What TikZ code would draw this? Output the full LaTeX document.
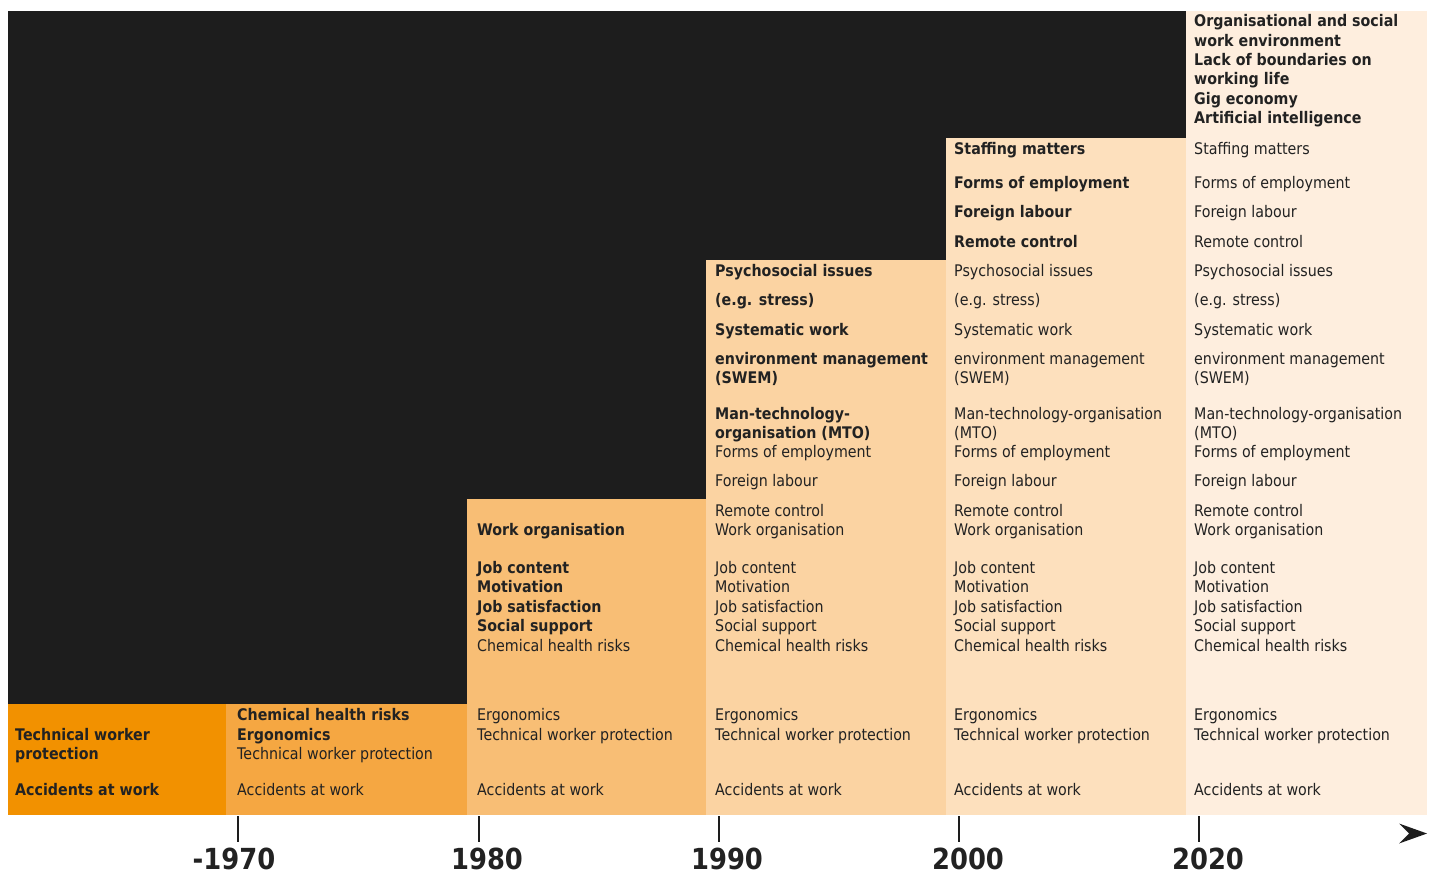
\documentclass[tikz,border=0pt]{standalone}
\usepackage{fontspec}
\setmainfont{DejaVu Sans}[FakeStretch=0.89]
\definecolor{dark}{RGB}{29,29,29}
\definecolor{txt}{RGB}{34,34,34}
\definecolor{cA}{RGB}{242,145,0}
\definecolor{cB}{RGB}{245,167,66}
\definecolor{cC}{RGB}{248,190,117}
\definecolor{cD}{RGB}{251,211,162}
\definecolor{cE}{RGB}{253,224,189}
\definecolor{cF}{RGB}{254,238,222}
\begin{document}
\begin{tikzpicture}[x=1pt,y=-1pt,
  lbl/.style={anchor=base west, inner sep=0pt, text=txt, font=\fontsize{16}{19.3}\selectfont},
  blbl/.style={lbl, font=\fontsize{16}{19.3}\selectfont\bfseries},
  year/.style={anchor=base, inner sep=0pt, text=txt, font=\fontsize{29}{30}\selectfont\bfseries},
  tick/.style={draw=dark, line width=2pt}]
\useasboundingbox (0,0) rectangle (1434,870);
% background and columns
\fill[dark] (8,11) rectangle (1186,815);
\fill[cA] (8,704) rectangle (226,815);
\fill[cB] (226,704) rectangle (467,815);
\fill[cC] (467,499) rectangle (706,815);
\fill[cD] (706,260) rectangle (946,815);
\fill[cE] (946,138) rectangle (1186,815);
\fill[cF] (1186,11) rectangle (1427,815);

% column 1
\node[blbl] (a1) at (15,740) {Technical worker};
\node[blbl] (a2) at (15,759) {protection};
\node[blbl] (a3) at (15,795) {Accidents at work};
% column 2
\node[blbl] (b1) at (237,720.7) {Chemical health risks};
\node[blbl] (b2) at (237,740) {Ergonomics};
\node[lbl] (b3) at (237,759) {Technical worker protection};
\node[lbl] (b4) at (237,795) {Accidents at work};
% column 3 bold
\node[blbl] (c1) at (477,535) {Work organisation};
\foreach \y/\t [count=\j] in {573.3/Job content,592.7/Motivation,612/Job satisfaction,631.5/Social support}
  \node[blbl] (cb\j) at (477,\y) {\t};
% regular lines shared by columns 3-6
\foreach \x [count=\i] in {477,715,954,1194}
  \foreach \y/\t [count=\j] in {651/Chemical health risks,720.7/Ergonomics,740/Technical worker protection,795/Accidents at work}
    \node[lbl] (low\i-\j) at (\x,\y) {\t};
% regular lines shared by columns 4-6
\foreach \x [count=\i] in {715,954,1194}
  \foreach \y/\t [count=\j] in {457/Forms of employment,486/Foreign labour,516/Remote control,535/Work organisation,573.3/Job content,592.7/Motivation,612/Job satisfaction,631.5/Social support}
    \node[lbl] (mid\i-\j) at (\x,\y) {\t};
% column 4 bold
\foreach \y/\t [count=\j] in {276/Psychosocial issues,305/{(e.g. stress)},335/Systematic work,364/environment management,383.3/{(SWEM)},419/Man-technology-,438.3/{organisation (MTO)}}
  \node[blbl] (d\j) at (715,\y) {\t};
% columns 5-6 regular
\foreach \x [count=\i] in {954,1194}
  \foreach \y/\t [count=\j] in {276/Psychosocial issues,305/{(e.g. stress)},335/Systematic work,364/environment management,383.3/{(SWEM)},419/Man-technology-organisation,438.3/{(MTO)}}
    \node[lbl] (up\i-\j) at (\x,\y) {\t};
% column 5 bold
\foreach \y/\t [count=\j] in {154/Staffing matters,188/Forms of employment,217/Foreign labour,247/Remote control}
  \node[blbl] (e\j) at (954,\y) {\t};
% column 6
\foreach \y/\t [count=\j] in {154/Staffing matters,188/Forms of employment,217/Foreign labour,247/Remote control}
  \node[lbl] (f\j) at (1194,\y) {\t};
\foreach \y/\t [count=\j] in {27/Organisational and social,46.3/work environment,65.6/Lack of boundaries on,84.9/working life,104.2/Gig economy,123.5/Artificial intelligence}
  \node[blbl] (g\j) at (1194,\y) {\t};

% timeline
\foreach \x in {238,479,719,959,1199}
  \draw[tick] (\x,816) -- (\x,842);
\node[year] (y1) at (234,869) {-1970};
\node[year] (y2) at (487,869) {1980};
\node[year] (y3) at (727,869) {1990};
\node[year] (y4) at (968,869) {2000};
\node[year] (y5) at (1208,869) {2020};
\fill[dark] (1427,833.5) -- (1399,823.5) -- (1409,833.5) -- (1399,843.5) -- cycle;
\end{tikzpicture}
\end{document}
